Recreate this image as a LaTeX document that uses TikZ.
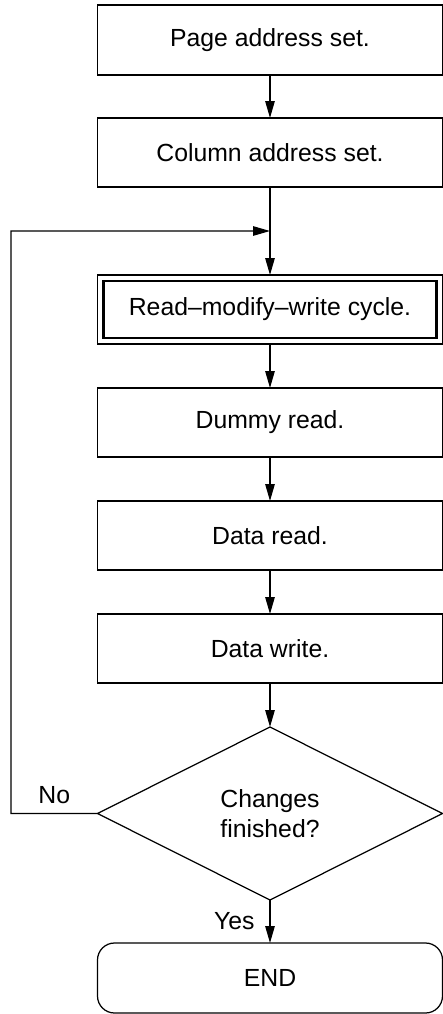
\documentclass[tikz,border=0pt]{standalone}
\usepackage{fontspec}
\setmainfont{Liberation Sans}
\usetikzlibrary{shapes.geometric, positioning, arrows.meta}

\begin{document}
\begin{tikzpicture}[->, >={Triangle[length=0.34cm, width=0.19cm]}, node distance=0.88cm, line width=0.7pt,
        every node/.style={font=\fontsize{14.1}{17}\selectfont},
        process/.style={draw, rectangle, minimum width=6.9cm, minimum height=1.38cm, inner sep=0pt, outer sep=0pt},
        decision/.style={draw, diamond, aspect=2, minimum width=6.9cm, minimum height=3.46cm, inner sep=0pt, outer sep=0pt, align=center},
        terminal/.style={draw, rectangle, rounded corners=0.34cm, minimum width=6.9cm, minimum height=1.4cm, outer sep=0pt}]
        \useasboundingbox (0,0) rectangle (8.86,-20.28);

        \node[process, minimum height=1.4cm] (PAGE) at (5.4,-0.8) {Page address set.};
        \node[process, below=0.86cm of PAGE] (COLUMN) {Column address set.};
        \coordinate[below=0.88cm of COLUMN] (JOIN);
        \node[process, below=1.76cm of COLUMN] (RMW) {Read--modify--write cycle.};
        \node[process, below=of RMW] (DUMMY) {Dummy read.};
        \node[process, below=of DUMMY] (DREAD) {Data read.};
        \node[process, below=of DREAD] (DWRITE) {Data write.};
        \node[decision, below=of DWRITE] (CHECK) {Changes\\finished?};
        \node[terminal, below=0.86cm of CHECK] (END) {END};
        \coordinate (LOOP) at (0.22,-4.62);

        % inner frame of the double box
        \draw[-, line width=1.5pt] ([shift={(0.12,-0.12)}]RMW.north west) rectangle ([shift={(-0.12,0.12)}]RMW.south east);

        \draw (PAGE) -- (COLUMN);
        \draw (COLUMN) -- (RMW);
        \draw (RMW) -- (DUMMY);
        \draw (DUMMY) -- (DREAD);
        \draw (DREAD) -- (DWRITE);
        \draw (DWRITE) -- (CHECK);
        \draw (CHECK) -- node[left=0.18cm] {Yes} (END);
        \draw (CHECK.west) -| node[pos=0.25, above=2pt] {No} (LOOP) -- (JOIN);
    \end{tikzpicture}
\end{document}
